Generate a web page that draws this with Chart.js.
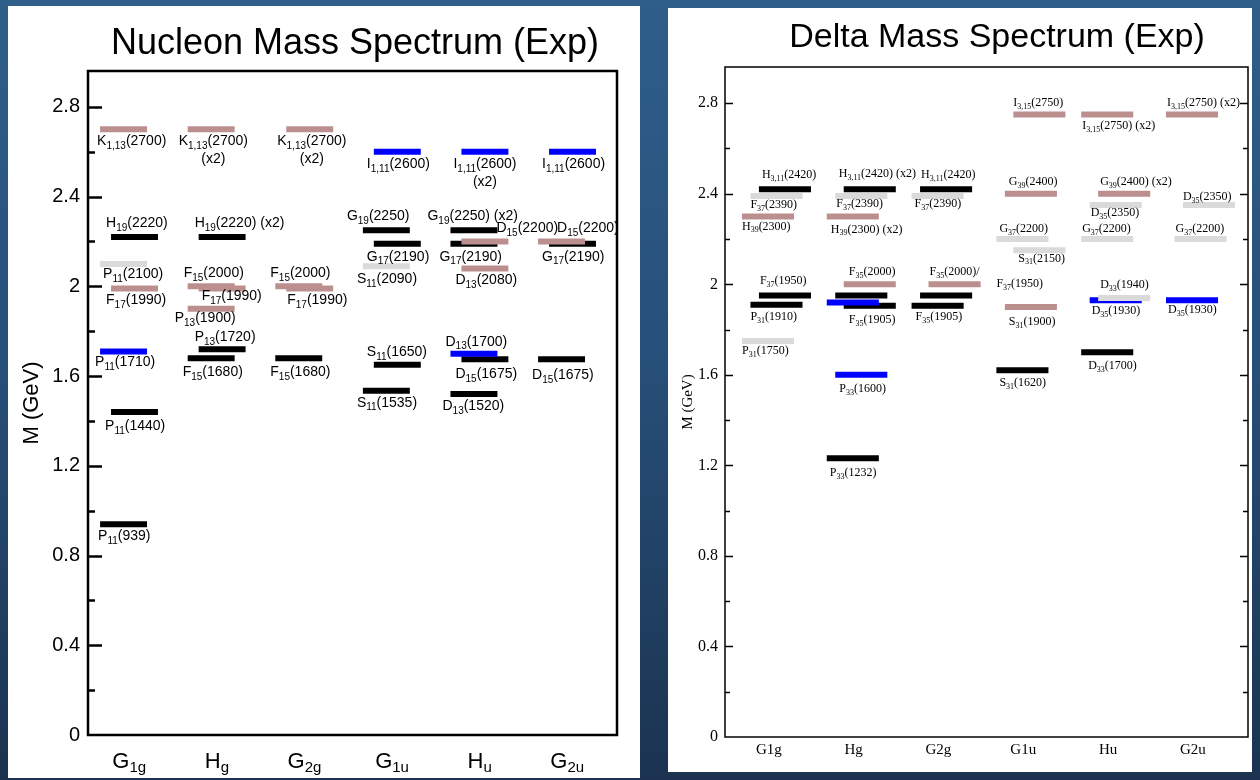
<!DOCTYPE html>
<html>
<head>
<meta charset="utf-8">
<script src="https://cdn.jsdelivr.net/npm/chart.js@4.4.0/dist/chart.umd.min.js"></script>
<style>
  body {
    margin: 0; width: 1260px; height: 780px; overflow: hidden;
    background: linear-gradient(180deg, #2f5e8b 0%, #27507a 45%, #1b3350 100%);
  }
  .panel { position: absolute; background: #fff; }
  #nucleonPanel { left: 8px; top: 6px; width: 632px; height: 772px; }
  #deltaPanel { left: 668px; top: 8px; width: 584px; height: 764px; }
  canvas { display: block; }
</style>
</head>
<body>
<div class="panel" id="nucleonPanel"><canvas id="nucleonChart" width="632" height="772"></canvas></div>
<div class="panel" id="deltaPanel"><canvas id="deltaChart" width="584" height="764"></canvas></div>
<script>
// mass axis (GeV)
const massTicks = [0, 0.4, 0.8, 1.2, 1.6, 2.0, 2.4, 2.8];
const massTickLabels = ['0', '0.4', '0.8', '1.2', '1.6', '2', '2.4', '2.8'];
const massMinorTicks = [0.2, 0.6, 1.0, 1.4, 1.8, 2.2, 2.6];

// ---- nucleon levels ----
const nucleonIrreps = ['G_{1g}', 'H_{g}', 'G_{2g}', 'G_{1u}', 'H_{u}', 'G_{2u}'];
const nucleonStates = [
  'K_{1,13}(2700)', 'H_{19}(2220)', 'P_{11}(2100)', 'F_{17}(1990)', 'P_{11}(1710)', 'P_{11}(1440)', 'P_{11}(939)',
  'K_{1,13}(2700)\n(x2)', 'H_{19}(2220) (x2)', 'F_{15}(2000)', 'F_{17}(1990)', 'P_{13}(1900)', 'P_{13}(1720)', 'F_{15}(1680)',
  'K_{1,13}(2700)\n(x2)', 'F_{15}(2000)', 'F_{17}(1990)', 'F_{15}(1680)',
  'I_{1,11}(2600)', 'G_{19}(2250)', 'G_{17}(2190)', 'S_{11}(2090)', 'S_{11}(1650)', 'S_{11}(1535)',
  'I_{1,11}(2600)\n(x2)', 'G_{19}(2250) (x2)', 'G_{17}(2190)', 'D_{15}(2200)', 'D_{13}(2080)', 'D_{13}(1700)', 'D_{15}(1675)', 'D_{13}(1520)',
  'I_{1,11}(2600)', 'D_{15}(2200)', 'G_{17}(2190)', 'D_{15}(1675)'
];
const nucleonMass = [
  2.70, 2.22, 2.10, 1.99, 1.71, 1.44, 0.939,
  2.70, 2.22, 2.00, 1.99, 1.90, 1.72, 1.68,
  2.70, 2.00, 1.99, 1.68,
  2.60, 2.25, 2.19, 2.09, 1.65, 1.535,
  2.60, 2.25, 2.19, 2.20, 2.08, 1.70, 1.675, 1.52,
  2.60, 2.20, 2.19, 1.675
];
const nucleonIrrep = [
  0, 0, 0, 0, 0, 0, 0,
  1, 1, 1, 1, 1, 1, 1,
  2, 2, 2, 2,
  3, 3, 3, 3, 3, 3,
  4, 4, 4, 4, 4, 4, 4, 4,
  5, 5, 5, 5
];
// PDG rating
const nucleonStars = [
  2, 4, 1, 2, 3, 4, 4,
  2, 4, 2, 2, 2, 4, 4,
  2, 2, 2, 4,
  3, 4, 4, 1, 4, 4,
  3, 4, 4, 2, 2, 3, 4, 4,
  3, 2, 4, 4
];
// layout: which of the two bar slots, label offset from the bar (px)
const nucleonSlot = [
  0, 1, 0, 1, 0, 1, 0,
  0, 1, 0, 1, 0, 1, 0,
  1, 0, 1, 0,
  1, 0, 1, 0, 1, 0,
  1, 0, 0, 1, 1, 0, 1, 0,
  1, 0, 1, 0
];
const nucleonLabelDx = [
  -3, -5, 3, -5, -5, -6, -2,
  -9, -4, -4, 3, -13, -4, -5,
  -9, -5, 1, -5,
  -7, -16, -7, -6, -7, -6,
  -8, -23, -11, 35, -6, -5, -6, -8,
  -7, 19, -7, -6
];
const nucleonLabelDy = [
  12, -14, 10, 12, 11, 14, 12,
  12, -14, -13, 8, 9, -12, 14,
  12, -13, 12, 14,
  12, -14, 13, 13, -13, 12,
  12, -14, 13, -13, 12, -12, 15, 12,
  12, -13, 13, 16
];

// ---- delta levels ----
const deltaIrreps = ['G1g', 'Hg', 'G2g', 'G1u', 'Hu', 'G2u'];
const deltaStates = [
  'H_{3,11}(2420)', 'F_{37}(2390)', 'H_{39}(2300)', 'F_{37}(1950)', 'P_{31}(1910)', 'P_{31}(1750)',
  'H_{3,11}(2420) (x2)', 'F_{37}(2390)', 'H_{39}(2300) (x2)', 'F_{35}(2000)', '', '', 'F_{35}(1905)', 'P_{33}(1600)', 'P_{33}(1232)',
  'H_{3,11}(2420)', 'F_{37}(2390)', 'F_{35}(2000)/', '', 'F_{35}(1905)',
  'I_{3,15}(2750)', 'G_{39}(2400)', 'G_{37}(2200)', 'S_{31}(2150)', 'F_{37}(1950)', 'S_{31}(1900)', 'S_{31}(1620)',
  'I_{3,15}(2750) (x2)', 'G_{39}(2400) (x2)', 'D_{35}(2350)', 'G_{37}(2200)', 'D_{33}(1940)', 'D_{35}(1930)', 'D_{33}(1700)',
  'I_{3,15}(2750) (x2)', 'D_{35}(2350)', 'G_{37}(2200)', 'D_{35}(1930)'
];
const deltaMass = [
  2.42, 2.39, 2.30, 1.95, 1.91, 1.75,
  2.42, 2.39, 2.30, 2.00, 1.95, 1.92, 1.905, 1.60, 1.232,
  2.42, 2.39, 2.00, 1.95, 1.905,
  2.75, 2.40, 2.20, 2.15, 1.95, 1.90, 1.62,
  2.75, 2.40, 2.35, 2.20, 1.94, 1.93, 1.70,
  2.75, 2.35, 2.20, 1.93
];
const deltaIrrep = [
  0, 0, 0, 0, 0, 0,
  1, 1, 1, 1, 1, 1, 1, 1, 1,
  2, 2, 2, 2, 2,
  3, 3, 3, 3, 3, 3, 3,
  4, 4, 4, 4, 4, 4, 4,
  5, 5, 5, 5
];
// 0 = caption without a level bar
const deltaStars = [
  4, 1, 2, 4, 4, 1,
  4, 1, 2, 2, 4, 3, 4, 3, 4,
  4, 1, 2, 4, 4,
  2, 2, 1, 1, 0, 2, 4,
  2, 2, 1, 1, 1, 3, 4,
  2, 1, 1, 3
];
const deltaSlot = [
  2, 1, 0, 2, 1, 0,
  2, 1, 0, 2, 1, 0, 2, 1, 0,
  1, 0, 2, 1, 0,
  2, 1, 0, 2, 0, 1, 0,
  0, 2, 1, 0, 2, 1, 0,
  0, 2, 1, 0
];
const deltaLabelDx = [
  3, 0, 0, 1, 0, 0,
  -5, 1, 4, 5, 0, 0, 5, 4, 3,
  1, 3, 1, 0, 4,
  0, 4, 3, 5, 0, 4, 3,
  1, 2, 1, 1, 2, 2, 7,
  1, 0, 1, 2
];
const deltaLabelDy = [
  -14, 9, 10, -15, 12, 10,
  -15, 8, 13, -12, 0, 0, 14, 14, 15,
  -14, 8, -12, 0, 11,
  -12, -12, -10, 8, -12, 15, 13,
  11, -12, 8, -10, -13, 11, 14,
  -12, -8, -10, 10
];

const starColors = { 4: '#000000', 3: '#0000ff', 2: '#bc8f8f', 1: '#dadada' };

// split "P_{11}(939)" into plain and subscript runs
function parseRich(str) {
  const runs = [];
  const re = /_\{([^}]*)\}/g;
  let last = 0, m;
  while ((m = re.exec(str))) {
    if (m.index > last) runs.push({ text: str.slice(last, m.index), sub: false });
    runs.push({ text: m[1], sub: true });
    last = re.lastIndex;
  }
  if (last < str.length) runs.push({ text: str.slice(last), sub: false });
  return runs;
}

function richWidth(ctx, str, fonts) {
  return parseRich(str).reduce((w, r) => {
    ctx.font = r.sub ? fonts.sub : fonts.main;
    return w + ctx.measureText(r.text).width;
  }, 0);
}

function drawRich(ctx, str, x, y, fonts, align) {
  const total = richWidth(ctx, str, fonts);
  let cx = align === 'center' ? x - total / 2 : x;
  ctx.textAlign = 'left';
  ctx.textBaseline = 'middle';
  parseRich(str).forEach(r => {
    ctx.font = r.sub ? fonts.sub : fonts.main;
    ctx.fillText(r.text, cx, r.sub ? y + fonts.subShift : y);
    cx += ctx.measureText(r.text).width;
  });
  return total;
}

// frame, ticks, titles and level captions
const spectrumDecor = {
  id: 'spectrumDecor',
  afterDraw(chart, args, o) {
    const { ctx, chartArea: a, scales: { x, y } } = chart;
    ctx.save();
    ctx.strokeStyle = '#000';
    ctx.fillStyle = '#000';
    ctx.lineWidth = o.frameWidth;
    ctx.strokeRect(a.left, a.top, a.right - a.left, a.bottom - a.top);

    const tick = (v, len, side) => {
      const py = Math.round(y.getPixelForValue(v)) + 0.5;
      ctx.beginPath();
      if (side === 'left') { ctx.moveTo(a.left - len.out, py); ctx.lineTo(a.left + len.in, py); }
      else { ctx.moveTo(a.right - len.in, py); ctx.lineTo(a.right + len.out, py); }
      ctx.stroke();
    };
    ctx.lineWidth = o.tickWidth;
    o.tickSides.forEach(side => {
      massTicks.forEach(v => { if (v > 0) tick(v, o.majorTick, side); });
      massMinorTicks.forEach(v => tick(v, o.minorTick, side));
    });

    ctx.textAlign = 'center';
    ctx.textBaseline = 'middle';
    ctx.font = o.titleFont;
    ctx.fillText(o.title, o.titleX, o.titleY);

    ctx.save();
    ctx.translate(o.yTitleX, (a.top + a.bottom) / 2 + o.yTitleDy);
    ctx.rotate(-Math.PI / 2);
    ctx.font = o.yTitleFont;
    ctx.fillText('M (GeV)', 0, 0);
    ctx.restore();

    o.irreps.forEach((name, i) => {
      drawRich(ctx, name, x.getPixelForValue(i + o.irrepShift), a.bottom + o.irrepDy, o.irrepFonts, 'center');
    });

    o.states.forEach((name, i) => {
      if (!name) return;
      const left = x.getPixelForValue(o.irrep[i] + o.slotOffsets[o.slot[i]] - o.halfWidth);
      const py = y.getPixelForValue(o.mass[i]) + o.dy[i];
      const lines = name.split('\n');
      const w0 = richWidth(ctx, lines[0], o.labelFonts);
      drawRich(ctx, lines[0], left + o.dx[i], py, o.labelFonts, 'left');
      lines.slice(1).forEach((ln, k) => {
        drawRich(ctx, ln, left + o.dx[i] + w0 / 2, py + (k + 1) * o.lineHeight, o.labelFonts, 'center');
      });
    });
    ctx.restore();
  }
};

function buildSpectrum(canvasId, d) {
  const datasets = [];
  d.states.forEach((name, i) => {
    if (!d.stars[i]) return;
    const c = d.irrep[i] + d.slotOffsets[d.slot[i]];
    datasets.push({
      data: [{ x: c - d.halfWidth, y: d.mass[i] }, { x: c + d.halfWidth, y: d.mass[i] }],
      borderColor: starColors[d.stars[i]],
      borderWidth: 6,
      borderCapStyle: 'butt',
      pointRadius: 0,
      showLine: true,
      order: d.stars[i]
    });
  });

  return new Chart(document.getElementById(canvasId), {
    type: 'scatter',
    data: { datasets },
    plugins: [spectrumDecor],
    options: {
      responsive: false,
      animation: false,
      events: [],
      layout: { padding: d.padding },
      scales: {
        x: { type: 'linear', min: d.xMin, max: d.xMax, display: false },
        y: {
          type: 'linear', min: 0, max: d.yMax,
          afterBuildTicks: s => { s.ticks = massTicks.map(v => ({ value: v })); },
          afterFit: s => { s.width = d.yAxisWidth; },
          grid: { display: false, drawTicks: false },
          border: { display: false },
          ticks: {
            padding: d.tickPadding,
            color: '#000',
            font: d.tickFont,
            callback: (v, idx) => massTickLabels[idx]
          }
        }
      },
      plugins: {
        legend: { display: false },
        tooltip: { enabled: false },
        spectrumDecor: Object.assign({
          irreps: d.irreps, states: d.states, mass: d.mass, irrep: d.irrep,
          slot: d.slot, dx: d.dx, dy: d.dy,
          slotOffsets: d.slotOffsets, halfWidth: d.halfWidth
        }, d.decor)
      }
    }
  });
}

buildSpectrum('nucleonChart', {
  irreps: nucleonIrreps, states: nucleonStates, mass: nucleonMass, irrep: nucleonIrrep,
  stars: nucleonStars, slot: nucleonSlot, dx: nucleonLabelDx, dy: nucleonLabelDy,
  slotOffsets: [-0.125, 0], halfWidth: 0.268,
  xMin: -0.531, xMax: 5.508, yMax: 2.96,
  padding: { top: 65, right: 23, bottom: 43, left: 0 },
  yAxisWidth: 80, tickPadding: 8,
  tickFont: { family: 'Liberation Sans', size: 20 },
  decor: {
    title: 'Nucleon Mass Spectrum (Exp)', titleFont: '36px "Liberation Sans"', titleX: 347, titleY: 38,
    yTitleFont: '22px "Liberation Sans"', yTitleX: 24, yTitleDy: 0,
    frameWidth: 2.5, tickWidth: 2.5, tickSides: ['left'],
    majorTick: { in: 14, out: 0 }, minorTick: { in: 7, out: 0 },
    irrepShift: -0.06, irrepDy: 27,
    irrepFonts: { main: '22px "Liberation Sans"', sub: '15px "Liberation Sans"', subShift: 6 },
    labelFonts: { main: '14px "Liberation Sans"', sub: '10px "Liberation Sans"', subShift: 5 },
    lineHeight: 18
  }
});

buildSpectrum('deltaChart', {
  irreps: deltaIrreps, states: deltaStates, mass: deltaMass, irrep: deltaIrrep,
  stars: deltaStars, slot: deltaSlot, dx: deltaLabelDx, dy: deltaLabelDy,
  slotOffsets: [0, 0.1, 0.2], halfWidth: 0.307,
  xMin: -0.507, xMax: 5.66, yMax: 2.96,
  padding: { top: 59, right: 4, bottom: 35, left: 0 },
  yAxisWidth: 57, tickPadding: 7,
  tickFont: { family: 'Liberation Serif', size: 16 },
  decor: {
    title: 'Delta Mass Spectrum (Exp)', titleFont: '34px "Liberation Sans"', titleX: 329, titleY: 30,
    yTitleFont: '15px "Liberation Serif"', yTitleX: 20, yTitleDy: 0,
    frameWidth: 1.5, tickWidth: 1.5, tickSides: ['left', 'right'],
    majorTick: { in: 8, out: 0 }, minorTick: { in: 5, out: 0 },
    irrepShift: 0.01, irrepDy: 13,
    irrepFonts: { main: '15px "Liberation Serif"', sub: '10px "Liberation Serif"', subShift: 4 },
    labelFonts: { main: '12px "Liberation Serif"', sub: '8px "Liberation Serif"', subShift: 4 },
    lineHeight: 15
  }
});
</script>
</body>
</html>
